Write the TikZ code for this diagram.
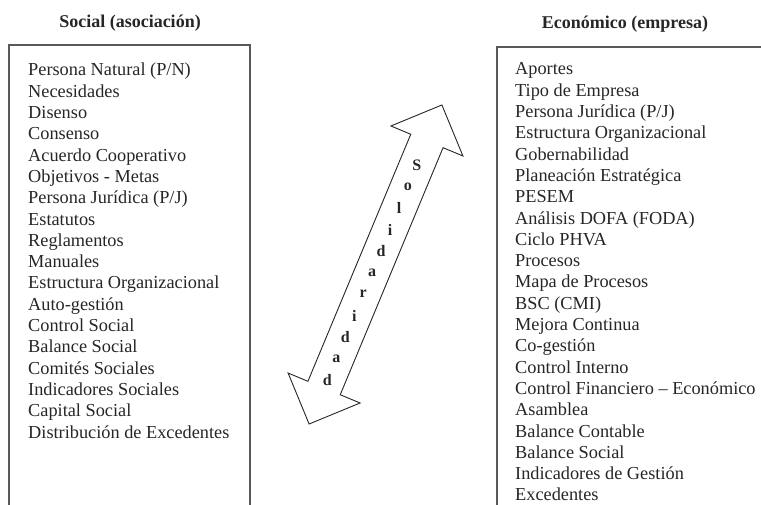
\documentclass[tikz,border=0pt]{standalone}
\usepackage{fontspec}
\setmainfont{Liberation Serif}
\usetikzlibrary{calc}
\begin{document}
\begin{tikzpicture}[x=1pt,y=1pt,
  item/.style={anchor=base west, inner sep=0pt, font=\fontsize{18.3}{20}\selectfont, text=black!85},
  title/.style={anchor=base, inner sep=0pt, font=\fontsize{18}{20}\selectfont\bfseries, text=black!85},
  boxline/.style={draw=black!65, line width=1.3pt},
  arrowshape/.style={draw=black!85, fill=white, line width=0.9pt, line join=miter},
  letter/.style={inner sep=0pt, font=\fontsize{16}{18}\selectfont\bfseries, text=black!85}]
\useasboundingbox (0,0) rectangle (761,505);
% titles
\node[title] (tl) at (130,477) {Social (asociación)};
\node[title] (tr) at (625,476) {Económico (empresa)};
% boxes
\draw[boxline] (9,-2) -- (9,460) -- (250,460) -- (250,-2);
\draw[boxline] (497,-2) -- (497,458) -- (763,458);
% left list
\foreach \t [count=\i] in {Persona Natural (P/N), Necesidades, Disenso, Consenso,
  Acuerdo Cooperativo, Objetivos - Metas, Persona Jurídica (P/J), Estatutos,
  Reglamentos, Manuales, Estructura Organizacional, Auto-gestión, Control Social,
  Balance Social, Comités Sociales, Indicadores Sociales, Capital Social,
  Distribución de Excedentes}
  \node[item] (l\i) at (28, {429-(\i-1)*21.3}) {\t};
% right list
\foreach \t [count=\i] in {Aportes, Tipo de Empresa, Persona Jurídica (P/J),
  Estructura Organizacional, Gobernabilidad, Planeación Estratégica, PESEM,
  Análisis DOFA (FODA), Ciclo PHVA, Procesos, Mapa de Procesos, BSC (CMI),
  Mejora Continua, Co-gestión, Control Interno, Control Financiero – Económico,
  Asamblea, Balance  Contable, Balance Social, Indicadores de Gestión, Excedentes}
  \node[item] (r\i) at (515, {430-(\i-1)*21.3}) {\t};
% double arrow
\coordinate (ac) at (375.5,240.5);
\begin{scope}[shift={(ac)}, rotate=67.4]
  \draw[arrowshape] (172.8,0) -- (133.8,39) -- (133.8,17.5) -- (-133.8,17.5)
    -- (-133.8,39) -- (-172.8,0) -- (-133.8,-39) -- (-133.8,-17.5)
    -- (133.8,-17.5) -- (133.8,-39) -- cycle;
\end{scope}
\foreach \c [count=\i] in {S,o,l,i,d,a,r,i,d,a,d}
  \node[letter] (s\i) at ($(ac)+(67.4:{107.8-(\i-1)*23.3})$) {\c};
\end{tikzpicture}
\end{document}
